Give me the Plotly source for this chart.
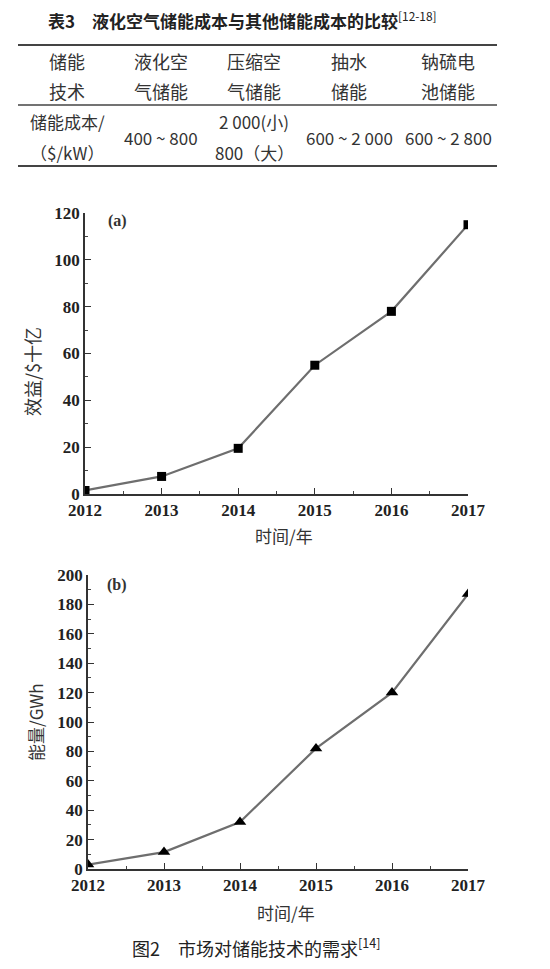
import plotly.graph_objects as go

# page body has an 8px default margin; compensate so page pixels match
OFF = 8
W, H = 550 - OFF, 969 - OFF

# ---------------- data ----------------
table_title = "表3　液化空气储能成本与其他储能成本的比较"
table_title_ref = "[12-18]"
header_line1 = ["储能", "液化空", "压缩空", "抽水", "钠硫电"]
header_line2 = ["技术", "气储能", "气储能", "储能", "池储能"]
row_label = ["储能成本/", "（$/kW）"]
row_values = ["400 ~ 800", "2 000(小)<br>800（大）", "600 ~ 2 000", "600 ~ 2 800"]

years = [2012, 2013, 2014, 2015, 2016, 2017]
benefit = [1.5, 7.5, 19.5, 55, 78, 115]      # 效益 / $十亿
energy = [3, 11.5, 32, 82, 120, 187]         # 能量 / GWh
x_ticks = [2012, 2013, 2014, 2015, 2016, 2017]
ya_ticks = [0, 20, 40, 60, 80, 100, 120]
yb_ticks = [0, 20, 40, 60, 80, 100, 120, 140, 160, 180, 200]

caption = "图2　市场对储能技术的需求"
caption_ref = "[14]"

# ---------------- helpers ----------------
def px(x):
    return (x - OFF) / W

def py(y):
    return 1 - (y - OFF) / H

CJK = "Noto Sans CJK SC"
SERIF = "Liberation Serif"

fig = go.Figure()

line_col = "#6e6e6e"
fig.add_trace(go.Scatter(x=years, y=benefit, mode="lines+markers",
                         line=dict(color=line_col, width=2.2),
                         marker=dict(symbol="square", size=9, color="black"),
                         xaxis="x", yaxis="y", showlegend=False))
fig.add_trace(go.Scatter(x=years, y=energy, mode="lines+markers",
                         line=dict(color=line_col, width=2.2),
                         marker=dict(symbol="triangle-up", size=11, color="black"),
                         xaxis="x2", yaxis="y2", showlegend=False))

tickfont = dict(family=SERIF, size=17, color="#222")
axis_common = dict(showline=True, linecolor="#333", linewidth=1.6,
                   ticks="inside", ticklen=6, tickwidth=1.2, tickcolor="#333",
                   showgrid=False, zeroline=False, tickfont=tickfont,
                   automargin=False)

xa = dict(axis_common, range=[2012, 2017], tickvals=x_ticks,
          ticktext=["<b>%d</b>" % v for v in x_ticks],
          minor=dict(dtick=0.5, tick0=2012, ticks="inside", ticklen=3, tickcolor="#444"))

fig.update_layout(
    width=W, height=H, margin=dict(l=0, r=0, t=0, b=0, pad=0, autoexpand=False),
    autosize=False,
    paper_bgcolor="white", plot_bgcolor="white",
    xaxis=dict(xa, domain=[px(85), px(468)], anchor="y"),
    yaxis=dict(axis_common, domain=[py(494), py(213)], anchor="x",
               range=[0, 120], tickvals=ya_ticks,
               ticktext=["<b>%d</b>" % v for v in ya_ticks],
               minor=dict(dtick=10, tick0=0, ticks="inside", ticklen=3, tickcolor="#444")),
    xaxis2=dict(xa, domain=[px(88), px(468)], anchor="y2"),
    yaxis2=dict(axis_common, domain=[py(869), py(575)], anchor="x2",
                range=[0, 200], tickvals=yb_ticks,
                ticktext=["<b>%d</b>" % v for v in yb_ticks],
                minor=dict(dtick=10, tick0=0, ticks="inside", ticklen=3, tickcolor="#444")),
)

anns = []
def text(x, y, s, size=15, family=CJK, color="#333", angle=0, xanchor="center"):
    anns.append(dict(x=px(x), y=py(y), xref="paper", yref="paper", text=s,
                     showarrow=False, xanchor=xanchor, yanchor="middle",
                     textangle=angle, font=dict(family=family, size=size, color=color)))

# ---------------- table ----------------
text(46, 20, "<b>" + table_title + "</b><sup style='font-size:7px'>" + table_title_ref + "</sup>",
     size=17, xanchor="left", color="#222")
col_x = [67, 161, 254, 349, 448]
for cx, a, b in zip(col_x, header_line1, header_line2):
    text(cx, 61, a, size=18)
    text(cx, 91, b, size=18)
text(col_x[0], 122, row_label[0], size=17)
text(col_x[0], 152, row_label[1], size=17)
for cx, v in zip(col_x[1:], row_values):
    if "<br>" in v:
        a, b = v.split("<br>")
        text(cx, 122, a, size=17)
        text(cx, 152, b, size=17)
    else:
        text(cx, 137, v, size=17)

shapes = []
for yy, wdt in [(45, 2.2), (105, 1.6), (166, 2.2)]:
    shapes.append(dict(type="line", xref="paper", yref="paper",
                       x0=px(18), x1=px(497), y0=py(yy), y1=py(yy),
                       line=dict(color="#444", width=wdt)))

# ---------------- chart labels ----------------
text(117, 221, "<b>(a)</b>", size=16, family=SERIF, color="#333")
text(32, 372, "效益/$十亿", size=18, angle=-90)
text(284, 535, "时间/年", size=17)

text(117, 585, "<b>(b)</b>", size=16, family=SERIF, color="#333")
text(35, 722, "能量/GWh", size=17, angle=-90)
text(286, 912, "时间/年", size=17)

text(130, 947, caption + "<sup style='font-size:8px'>" + caption_ref + "</sup>",
     size=18, xanchor="left", color="#222")

fig.update_layout(annotations=anns, shapes=shapes)
fig.write_html("out.html")
